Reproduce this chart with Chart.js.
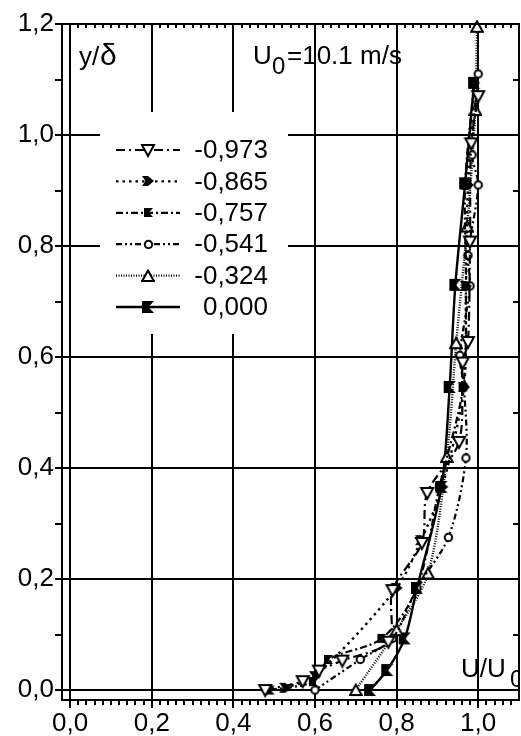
<!DOCTYPE html>
<html>
<head>
<meta charset="utf-8">
<script src="https://cdn.jsdelivr.net/npm/chart.js@4.4.0/dist/chart.umd.min.js"></script>
<style>
  html, body { margin: 0; padding: 0; background: #fff; }
  #wrap { width: 521px; height: 736px; }
</style>
</head>
<body>
<div id="wrap"><canvas id="chart_profile" width="521" height="736"></canvas></div>
<script>
// velocity profiles U/U0 vs y/delta, one series per station
var labels = ["-0,973", "-0,865", "-0,757", "-0,541", "-0,324", "0,000"];

var u_973 = [0.478, 0.57, 0.61, 0.667, 0.78, 0.79, 0.862, 0.875, 0.953, 0.962, 0.975, 0.98, 0.983, 1.0];
var y_973 = [0.0, 0.016, 0.035, 0.053, 0.087, 0.18, 0.265, 0.355, 0.447, 0.59, 0.627, 0.808, 0.985, 1.07];

var u_865 = [0.527, 0.60, 0.80, 0.86, 0.912, 0.965, 0.97, 0.975, 0.99];
var y_865 = [0.004, 0.025, 0.184, 0.27, 0.366, 0.546, 0.728, 0.91, 1.094];

var u_757 = [0.49, 0.596, 0.633, 0.764, 0.85, 0.905, 0.963, 0.97, 0.968, 0.99];
var y_757 = [0.0, 0.015, 0.055, 0.093, 0.184, 0.366, 0.546, 0.728, 0.91, 1.094];

var u_541 = [0.6, 0.711, 0.79, 0.85, 0.927, 0.97, 0.965, 0.955, 0.98, 0.975, 1.0, 0.985, 1.0];
var y_541 = [0.0, 0.055, 0.093, 0.184, 0.275, 0.418, 0.546, 0.603, 0.728, 0.783, 0.91, 0.964, 1.11];

var u_324 = [0.70, 0.80, 0.877, 0.923, 0.946, 0.973, 0.993, 0.997];
var y_324 = [0.0, 0.108, 0.21, 0.42, 0.625, 0.835, 1.045, 1.195];

var u_000 = [0.735, 0.777, 0.82, 0.85, 0.91, 0.93, 0.944, 0.968, 0.99];
var y_000 = [0.0, 0.036, 0.093, 0.184, 0.366, 0.546, 0.73, 0.913, 1.094];

var xTicks = [0.0, 0.2, 0.4, 0.6, 0.8, 1.0];
var yTicks = [0.0, 0.2, 0.4, 0.6, 0.8, 1.0, 1.2];

var FONT = '"Liberation Sans", Arial, sans-serif';

/* small canvases used as point symbols */
function marker(size, draw) {
  var c = document.createElement('canvas');
  c.width = size; c.height = size;
  var g = c.getContext('2d');
  g.lineWidth = 2; g.strokeStyle = '#000'; g.fillStyle = '#000';
  g.lineJoin = 'miter';
  draw(g);
  return c;
}
var mTriDown = marker(16, function (g) {
  g.beginPath(); g.moveTo(2, 3); g.lineTo(14, 3); g.lineTo(8, 14); g.closePath();
  g.fillStyle = '#fff'; g.fill(); g.stroke();
});
var mArrow = marker(14, function (g) {
  g.beginPath(); g.moveTo(1, 2); g.lineTo(7, 2); g.lineTo(13, 7); g.lineTo(7, 12); g.lineTo(1, 12); g.lineTo(4.5, 7);
  g.closePath(); g.fill();
});
var mNotchSmall = marker(11, function (g) {
  g.beginPath(); g.moveTo(1, 1); g.lineTo(10, 1); g.lineTo(6, 5.5); g.lineTo(10, 10); g.lineTo(1, 10);
  g.closePath(); g.fill();
});
var mCircle = marker(11, function (g) {
  g.beginPath(); g.arc(5.5, 5.5, 3.7, 0, Math.PI * 2);
  g.fillStyle = '#fff'; g.fill(); g.stroke();
});
var mTriUp = marker(14, function (g) {
  g.beginPath(); g.moveTo(7, 1.5); g.lineTo(12.8, 12); g.lineTo(1.2, 12); g.closePath();
  g.fillStyle = '#fff'; g.fill(); g.stroke();
});
var mBowtie = marker(14, function (g) {
  g.beginPath(); g.moveTo(1, 1); g.lineTo(13, 1); g.lineTo(7.5, 7); g.lineTo(13, 13); g.lineTo(1, 13);
  g.closePath(); g.fill();
});

function series(label, us, ys, sym, dash, width) {
  return {
    label: label,
    data: us.map(function (u, i) { return { x: u, y: ys[i] }; }),
    showLine: true,
    borderColor: '#000',
    borderWidth: width,
    borderDash: dash,
    tension: 0.3,
    pointStyle: sym,
    pointRadius: 6,
    clip: false
  };
}

var datasets = [
  series(labels[0], u_973, y_973, mTriDown, [9, 4, 2, 4], 2.2),
  series(labels[1], u_865, y_865, mArrow, [2.5, 4], 2.4),
  series(labels[2], u_757, y_757, mNotchSmall, [7, 3, 2, 3], 2.2),
  series(labels[3], u_541, y_541, mCircle, [6, 3, 2, 3, 2, 3], 2.2),
  series(labels[4], u_324, y_324, mTriUp, [1, 1.5], 2.4),
  series(labels[5], u_000, y_000, mBowtie, [], 2.4)
];

/* white legend panel over the grid, entries drawn later */
var legendBox = {
  id: 'legendBox',
  beforeDatasetsDraw: function (chart) {
    var ctx = chart.ctx;
    ctx.save();
    ctx.fillStyle = '#fff';
    ctx.fillRect(100, 112, 188, 222);
    ctx.restore();
  },
  afterDraw: function (chart) {
    var ctx = chart.ctx;
    ctx.save();
    chart.data.datasets.forEach(function (ds, i) {
      var yy = 150 + i * 31.4;
      ctx.beginPath();
      ctx.setLineDash(ds.borderDash);
      ctx.lineWidth = ds.borderWidth;
      ctx.strokeStyle = '#000';
      ctx.moveTo(116, yy); ctx.lineTo(180, yy);
      ctx.stroke();
      ctx.setLineDash([]);
      var m = ds.pointStyle;
      ctx.drawImage(m, Math.round(148 - m.width / 2), Math.round(yy - m.height / 2));
      ctx.fillStyle = '#000';
      ctx.font = '26px ' + FONT;
      ctx.textAlign = 'right';
      ctx.textBaseline = 'middle';
      ctx.fillText(ds.label, 268, yy + 1);
    });
    ctx.restore();
  }
};

/* closed frame, minor ticks and the in-plot captions */
var frame = {
  id: 'frame',
  afterDraw: function (chart) {
    var ctx = chart.ctx, ca = chart.chartArea;
    var xs = chart.scales.x, ys = chart.scales.y;
    ctx.save();
    ctx.strokeStyle = '#000';
    ctx.lineWidth = 2;
    ctx.beginPath();
    ctx.moveTo(ca.left, ca.top); ctx.lineTo(ca.right, ca.top); ctx.lineTo(ca.right, ca.bottom);
    ctx.stroke();

    ctx.beginPath();
    for (var i = 1; i < 60; i++) {
      if (i % 10 === 0) continue;
      var px = Math.round(xs.getPixelForValue(i * 0.02));
      if (px > ca.right - 2) break;
      ctx.moveTo(px, ca.bottom); ctx.lineTo(px, ca.bottom + 5);
      ctx.moveTo(px, ca.top); ctx.lineTo(px, ca.top + 4);
    }
    for (var k = 0; k < 6; k++) {
      var py = Math.round(ys.getPixelForValue(0.1 + k * 0.2));
      ctx.moveTo(ca.left - 7, py); ctx.lineTo(ca.left, py);
      ctx.moveTo(ca.right - 6, py); ctx.lineTo(ca.right, py);
    }
    ctx.stroke();

    ctx.fillStyle = '#000';
    ctx.textAlign = 'left';
    ctx.textBaseline = 'alphabetic';
    ctx.font = '26px ' + FONT;
    ctx.fillText('y/', 79, 65);
    ctx.font = '30px ' + FONT;
    ctx.fillText('\u03b4', 100, 65);

    ctx.font = '26px ' + FONT;
    ctx.fillText('U', 253, 64);
    ctx.font = '24px ' + FONT;
    ctx.fillText('0', 272, 74);
    ctx.font = '26px ' + FONT;
    ctx.fillText('=10.1 m/s', 287, 64);

    ctx.beginPath();
    ctx.rect(ca.left, ca.top, ca.right - ca.left, ca.bottom - ca.top);
    ctx.clip();
    ctx.font = '26px ' + FONT;
    ctx.fillText('U/U', 461, 677);
    ctx.font = '24px ' + FONT;
    ctx.fillText('0', 510, 687);
    ctx.restore();
  }
};

function commaLabel(v) {
  return Number(v).toFixed(1).replace('.', ',');
}

var ctx = document.getElementById('chart_profile').getContext('2d');
var myChart = new Chart(ctx, {
  type: 'scatter',
  data: { datasets: datasets },
  options: {
    responsive: false,
    animation: false,
    devicePixelRatio: 1,
    layout: { autoPadding: false, padding: { top: 24, right: 2, left: 0, bottom: 0 } },
    plugins: { legend: { display: false }, tooltip: { enabled: false } },
    scales: {
      x: {
        type: 'linear',
        min: -0.02,
        max: 1.1,
        afterBuildTicks: function (scale) {
          scale.ticks = xTicks.map(function (v) { return { value: v }; });
        },
        afterFit: function (scale) {
          scale.height = 36;
          scale.paddingLeft = 0;
          scale.paddingRight = 0;
        },
        ticks: {
          callback: commaLabel,
          color: '#000',
          font: { family: FONT, size: 26 },
          padding: 0,
          maxRotation: 0,
          autoSkip: false
        },
        grid: { color: '#000', lineWidth: 2, tickLength: 8, tickColor: '#000' },
        border: { display: true, color: '#000', width: 2 }
      },
      y: {
        type: 'linear',
        min: -0.018,
        max: 1.2,
        afterBuildTicks: function (scale) {
          scale.ticks = yTicks.map(function (v) { return { value: v }; });
        },
        afterFit: function (scale) { scale.width = 62; },
        ticks: {
          callback: commaLabel,
          color: '#000',
          font: { family: FONT, size: 26 },
          padding: 1,
          autoSkip: false
        },
        grid: { color: '#000', lineWidth: 2, tickLength: 7, tickColor: '#000' },
        border: { display: true, color: '#000', width: 2 }
      }
    }
  },
  plugins: [legendBox, frame]
});
</script>
</body>
</html>
